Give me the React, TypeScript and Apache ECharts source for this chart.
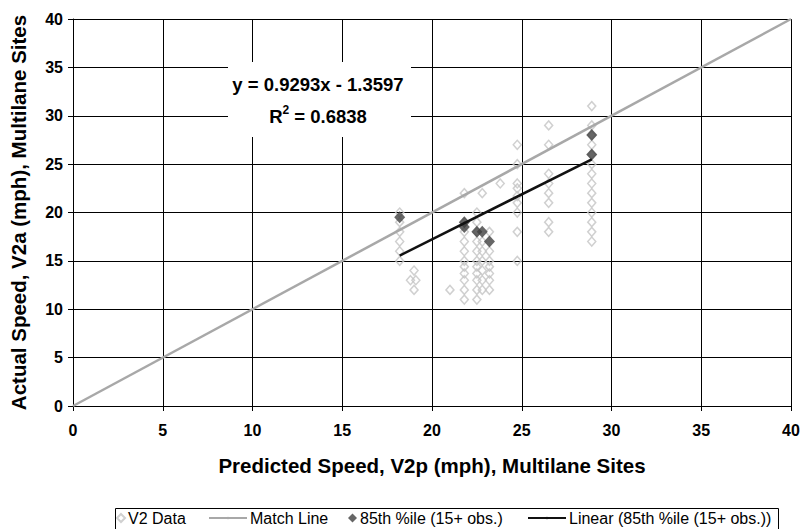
import React, { useEffect, useRef } from "react";
import * as echarts from "echarts";

// ---- data ----
const axisMin = 0;
const axisMax = 40;
const axisStep = 5;

// V2 Data (predicted x, actual y)
const v2PredX = [
  18.2, 18.2, 18.2, 18.2, 18.2, 18.2,
  19.0, 18.8, 19.1, 19.0,
  21.0,
  21.8, 21.8, 21.8, 21.8, 21.8, 21.8, 21.8, 21.8, 21.8, 21.8, 21.8,
  22.5, 22.5, 22.5, 22.5, 22.5, 22.5, 22.5, 22.5, 22.5, 22.5, 22.5,
  22.8, 22.8, 22.8, 22.8, 22.8, 22.8, 22.8,
  23.2, 23.2, 23.2, 23.2, 23.2, 23.2, 23.2,
  23.8,
  24.75, 24.75, 24.75, 24.75, 24.75, 24.75, 24.75, 24.75, 24.75,
  26.5, 26.5, 26.5, 26.5, 26.5, 26.5, 26.5, 26.5,
  28.9, 28.9, 28.9, 28.9, 28.9, 28.9, 28.9, 28.9, 28.9, 28.9, 28.9, 28.9, 28.9, 28.9,
];
const v2ActualY = [
  20, 19, 18, 17, 16, 15,
  14, 13, 13, 12,
  12,
  22, 19, 18, 17, 16, 15, 14.4, 13.7, 13, 12, 11,
  20, 19, 18, 17, 16, 15, 14.4, 13.7, 13, 12, 11,
  22, 17, 16, 15, 14, 13, 12,
  18, 16, 15, 14.4, 13.7, 13, 12,
  23,
  27, 25, 23, 22.5, 21.7, 21, 20, 18, 15,
  29, 27, 24, 23, 22, 21, 19, 18,
  31, 29, 28, 27, 26, 25, 24, 23, 22, 21, 20, 19, 18, 17,
];

// Match line
const matchX = [0, 40];
const matchY = [0, 40];

// 85th percentile (15+ obs.)
const p85X = [18.2, 21.8, 21.8, 22.5, 22.8, 23.2, 28.9, 28.9];
const p85Y = [19.5, 19, 18.5, 18, 18, 17, 28, 26];

// Linear trendline endpoints
const trendX = [18.2, 28.9];
const trendY = [15.55, 25.5];

const equationText = "y = 0.9293x - 1.3597";
const r2Text = "{n|R}{s|2}{n| = 0.6838}";

const seriesNames = [
  "V2 Data",
  "Match Line",
  "85th %ile (15+ obs.)",
  "Linear (85th %ile (15+ obs.))",
];

const xTitle = "Predicted Speed, V2p (mph), Multilane Sites";
const yTitle = "Actual Speed, V2a (mph), Multilane Sites";

const FONT = "'Liberation Sans', Arial, sans-serif";

const zip = (xs: number[], ys: number[]) => xs.map((x, i) => [x, ys[i]]);

export default function App() {
  const ref = useRef<HTMLDivElement>(null);

  useEffect(() => {
    if (!ref.current) return;
    const chart = echarts.init(ref.current, null, { renderer: "svg" });

    const axisCommon = {
      type: "value" as const,
      min: axisMin,
      max: axisMax,
      interval: axisStep,
      nameLocation: "middle" as const,
      axisLine: { show: true, onZero: false, lineStyle: { color: "#000", width: 1 } },
      axisTick: { show: true, inside: false, length: 5, lineStyle: { color: "#000" } },
      splitLine: { show: true, lineStyle: { color: "#000", width: 1 } },
      nameTextStyle: { fontFamily: FONT, fontSize: 20.5, fontWeight: "bold" as const, color: "#000" },
    };

    const legendCommon = {
      top: 510,
      padding: 0,
      itemGap: 0,
      selectedMode: false as const,
      textStyle: { fontFamily: FONT, fontSize: 16, color: "#000", padding: [0, 0, 0, -2] },
    };

    chart.setOption({
      animation: false,
      backgroundColor: "#fff",
      grid: { left: 73, right: 13, top: 19, bottom: 123, containLabel: false },
      xAxis: {
        ...axisCommon,
        name: xTitle,
        nameGap: 49,
        axisLabel: { fontFamily: FONT, fontSize: 16, fontWeight: "bold", color: "#000", margin: 16 },
      },
      yAxis: {
        ...axisCommon,
        name: yTitle,
        nameGap: 44,
        axisLabel: { fontFamily: FONT, fontSize: 16, fontWeight: "bold", color: "#000", margin: 10 },
      },
      legend: [
        { ...legendCommon, left: 116, data: [seriesNames[0]], itemWidth: 8, itemHeight: 8 },
        { ...legendCommon, left: 208, data: [seriesNames[1]], itemWidth: 38, itemHeight: 3 },
        { ...legendCommon, left: 348, data: [seriesNames[2]], itemWidth: 9, itemHeight: 9 },
        { ...legendCommon, left: 527, data: [seriesNames[3]], itemWidth: 38, itemHeight: 3 },
      ],
      graphic: [
        {
          type: "rect",
          left: 113,
          top: 506,
          shape: { width: 663, height: 22 },
          style: { fill: "none", stroke: "#000", lineWidth: 1 },
          silent: true,
          z: 10,
        },
        {
          type: "rect",
          shape: { x: 228, y: 62, width: 183, height: 75 },
          style: { fill: "#fff" },
          silent: true,
          z: 20,
        },
        {
          type: "text",
          x: 318,
          y: 84,
          style: {
            text: equationText,
            fontFamily: FONT,
            fontSize: 18.5,
            fontWeight: "bold",
            fill: "#000",
            align: "center",
            verticalAlign: "middle",
          },
          silent: true,
          z: 21,
        },
        {
          type: "text",
          x: 318,
          y: 116,
          style: {
            text: r2Text,
            fontFamily: FONT,
            fontSize: 18.5,
            fontWeight: "bold",
            fill: "#000",
            align: "center",
            verticalAlign: "middle",
            rich: {
              n: { fontFamily: FONT, fontSize: 18.5, fontWeight: "bold", fill: "#000", lineHeight: 24 },
              s: {
                fontFamily: FONT,
                fontSize: 12,
                fontWeight: "bold",
                fill: "#000",
                lineHeight: 12,
                verticalAlign: "top",
              },
            },
          },
          silent: true,
          z: 21,
        },
      ],
      series: [
        {
          name: seriesNames[0],
          type: "scatter",
          symbol: "diamond",
          symbolSize: [8, 9],
          data: zip(v2PredX, v2ActualY),
          itemStyle: { color: "rgba(255,255,255,0)", borderColor: "#c4c4c4", borderWidth: 1.5 },
          z: 2,
        },
        {
          name: seriesNames[1],
          type: "line",
          symbol: "none",
          data: zip(matchX, matchY),
          lineStyle: { color: "#a8a8a8", width: 2.5 },
          itemStyle: { color: "#a8a8a8" },
          z: 3,
        },
        {
          name: seriesNames[2],
          type: "scatter",
          symbol: "diamond",
          symbolSize: [11, 12],
          data: zip(p85X, p85Y),
          itemStyle: { color: "#404040" },
          z: 4,
        },
        {
          name: seriesNames[3],
          type: "line",
          symbol: "none",
          data: zip(trendX, trendY),
          lineStyle: { color: "#111", width: 2.5 },
          itemStyle: { color: "#111" },
          z: 5,
        },
      ],
    });

    return () => chart.dispose();
  }, []);

  return (
    <div
      ref={ref}
      style={{ position: "fixed", left: 0, top: 0, width: 804, height: 529, background: "#fff" }}
    />
  );
}
